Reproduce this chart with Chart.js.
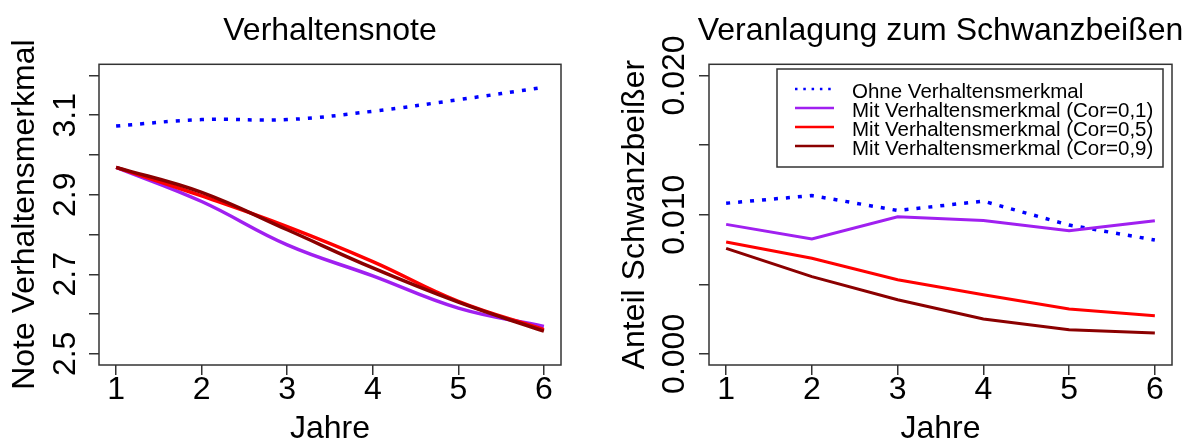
<!DOCTYPE html>
<html>
<head>
<meta charset="utf-8">
<script src="https://cdn.jsdelivr.net/npm/chart.js@4/dist/chart.umd.min.js"></script>
<style>
  html, body { margin: 0; padding: 0; background: #fff; }
  #wrap { position: relative; width: 1197px; height: 441px; overflow: hidden; }
  #leftChart { position: absolute; left: 0; top: 0; }
  #rightChart { position: absolute; left: 600px; top: 0; }
</style>
</head>
<body>
<div id="wrap">
  <canvas id="leftChart" width="600" height="441"></canvas>
  <canvas id="rightChart" width="597" height="441"></canvas>
</div>
<script>
const years = [1, 2, 3, 4, 5, 6];

const seriesLabels = [
    'Ohne Verhaltensmerkmal',
    'Mit Verhaltensmerkmal (Cor=0,1)',
    'Mit Verhaltensmerkmal (Cor=0,5)',
    'Mit Verhaltensmerkmal (Cor=0,9)'
];
const seriesColors = ['#0000FF', '#A020F0', '#FF0000', '#8B0000'];

// Verhaltensnote (left panel)
const noteOhne  = [3.073, 3.089, 3.089, 3.110, 3.139, 3.170];
const noteCor01 = [2.969, 2.883, 2.774, 2.696, 2.615, 2.569];
const noteCor05 = [2.969, 2.897, 2.820, 2.732, 2.632, 2.561];
const noteCor09 = [2.969, 2.906, 2.812, 2.716, 2.630, 2.557];

// Anteil Schwanzbeißer (right panel)
const anteilOhne  = [0.01082, 0.01137, 0.01030, 0.01097, 0.00925, 0.00818];
const anteilCor01 = [0.00930, 0.00825, 0.00985, 0.00958, 0.00884, 0.00956];
const anteilCor05 = [0.00803, 0.00687, 0.00532, 0.00424, 0.00322, 0.00274];
const anteilCor09 = [0.00758, 0.00555, 0.00389, 0.00250, 0.00174, 0.00150];

const noteTicks = [2.5, 2.6, 2.7, 2.8, 2.9, 3.0, 3.1, 3.2];
const noteTickLabels = ['2.5', '', '2.7', '', '2.9', '', '3.1', ''];
const anteilTicks = [0, 0.005, 0.010, 0.015, 0.020];
const anteilTickLabels = ['0.000', '', '0.010', '', '0.020'];

const FONT = "'Liberation Sans', Arial, sans-serif";
const AXIS_COLOR = '#333';

const toPoints = (vals) => years.map((x, i) => ({ x: x, y: vals[i] }));

function makeDatasets(seriesList, smooth, width) {
    return seriesList.map((vals, i) => ({
        label: seriesLabels[i],
        data: toPoints(vals),
        borderColor: seriesColors[i],
        backgroundColor: seriesColors[i],
        borderWidth: i === 0 ? 3.5 : width,
        borderDash: i === 0 ? [4, 8] : [],
        borderCapStyle: 'butt',
        pointRadius: 0,
        fill: false,
        tension: smooth ? 0.4 : 0,
        order: seriesList.length - i
    }));
}

// R-style frame, main title, rotated y tick labels and an inset legend
const rStylePlugin = {
    id: 'rStyle',
    afterDraw(chart, args, opts) {
        const ctx = chart.ctx;
        const area = chart.chartArea;
        ctx.save();
        ctx.strokeStyle = AXIS_COLOR;
        ctx.lineWidth = 1.5;
        ctx.strokeRect(area.left, area.top, area.right - area.left, area.bottom - area.top);

        // main title, centred over the plot region (may be wider than it)
        ctx.fillStyle = '#000';
        ctx.font = opts.titleSize + 'px ' + FONT;
        ctx.textAlign = 'center';
        ctx.textBaseline = 'alphabetic';
        ctx.fillText(opts.title, (area.left + area.right) / 2, 40);

        const y = chart.scales.y;
        ctx.font = '32px ' + FONT;
        y.ticks.forEach((t, i) => {
            const label = opts.tickLabels[i];
            if (!label) return;
            ctx.save();
            ctx.translate(y.right - opts.labelGap, y.getPixelForValue(t.value));
            ctx.rotate(-Math.PI / 2);
            ctx.fillText(label, 0, 0);
            ctx.restore();
        });

        if (opts.legend) {
            const L = opts.legend;
            ctx.strokeStyle = AXIS_COLOR;
            ctx.lineWidth = 1.5;
            ctx.strokeRect(L.left, L.top, L.width, L.height);
            ctx.font = '20.5px ' + FONT;
            ctx.textAlign = 'left';
            chart.data.datasets.forEach((ds, i) => {
                const rowY = L.firstRow + i * L.rowGap;
                ctx.save();
                ctx.strokeStyle = ds.borderColor;
                ctx.lineWidth = 2.5;
                ctx.setLineDash(i === 0 ? [2.5, 5.8] : []);
                ctx.beginPath();
                ctx.moveTo(L.left + 18, rowY);
                ctx.lineTo(L.left + 57, rowY);
                ctx.stroke();
                ctx.restore();
                ctx.fillStyle = '#000';
                ctx.fillText(ds.label, L.left + 75, rowY + 8.5);
            });
        }
        ctx.restore();
    }
};

function makeOptions(cfg) {
    return {
        responsive: false,
        animation: false,
        devicePixelRatio: 1,
        layout: { padding: { left: 0, right: cfg.padRight, top: 64.3, bottom: 0 } },
        scales: {
            x: {
                type: 'linear',
                min: 0.8,
                max: 6.2,
                afterBuildTicks: (scale) => { scale.ticks = years.map(v => ({ value: v })); },
                afterFit: (scale) => { scale.height = 76; },
                border: { display: false },
                grid: {
                    drawOnChartArea: false,
                    drawTicks: true,
                    tickLength: 10,
                    color: AXIS_COLOR,
                    lineWidth: 1.5
                },
                ticks: {
                    color: '#000',
                    font: { family: FONT, size: 32, lineHeight: 0.9 },
                    padding: 0.5,
                    maxRotation: 0,
                    autoSkip: false
                },
                title: {
                    display: true,
                    text: 'Jahre',
                    color: '#000',
                    font: { family: FONT, size: 32, lineHeight: 0.75 },
                    padding: { top: 0, bottom: 0 }
                }
            },
            y: {
                type: 'linear',
                min: cfg.yMin,
                max: cfg.yMax,
                afterBuildTicks: (scale) => { scale.ticks = cfg.yTicks.map(v => ({ value: v })); },
                afterFit: (scale) => { scale.width = cfg.yWidth; },
                border: { display: false },
                grid: {
                    drawOnChartArea: false,
                    drawTicks: true,
                    tickLength: 10,
                    color: AXIS_COLOR,
                    lineWidth: 1.5
                },
                ticks: { display: false },
                title: {
                    display: true,
                    text: cfg.yTitle,
                    color: '#000',
                    font: { family: FONT, size: 32, lineHeight: 1 },
                    padding: { top: cfg.yTitlePad, bottom: 0 }
                }
            }
        },
        plugins: {
            legend: { display: false },
            tooltip: { enabled: false },
            title: { display: false },
            rStyle: {
                title: cfg.title,
                titleSize: cfg.titleSize,
                tickLabels: cfg.yTickLabels,
                labelGap: cfg.labelGap,
                legend: cfg.legend || null
            }
        }
    };
}

new Chart(document.getElementById('leftChart'), {
    type: 'line',
    data: { datasets: makeDatasets([noteOhne, noteCor01, noteCor05, noteCor09], true, 3.5) },
    options: makeOptions({
        title: 'Verhaltensnote',
        titleSize: 32,
        yTitle: 'Note Verhaltensmerkmal',
        yMin: 2.472,
        yMax: 3.228,
        yTicks: noteTicks,
        yTickLabels: noteTickLabels,
        yWidth: 99,
        yTitlePad: 9,
        labelGap: 24,
        padRight: 39
    }),
    plugins: [rStylePlugin]
});

new Chart(document.getElementById('rightChart'), {
    type: 'line',
    data: { datasets: makeDatasets([anteilOhne, anteilCor01, anteilCor05, anteilCor09], false, 3) },
    options: makeOptions({
        title: 'Veranlagung zum Schwanzbeißen',
        titleSize: 32,
        yTitle: 'Anteil Schwanzbeißer',
        yMin: -0.0008,
        yMax: 0.0208,
        yTicks: anteilTicks,
        yTickLabels: anteilTickLabels,
        yWidth: 109,
        yTitlePad: 19,
        labelGap: 25,
        padRight: 25,
        legend: { left: 177, top: 69, width: 386, height: 98, firstRow: 89, rowGap: 19 }
    }),
    plugins: [rStylePlugin]
});
</script>
</body>
</html>
